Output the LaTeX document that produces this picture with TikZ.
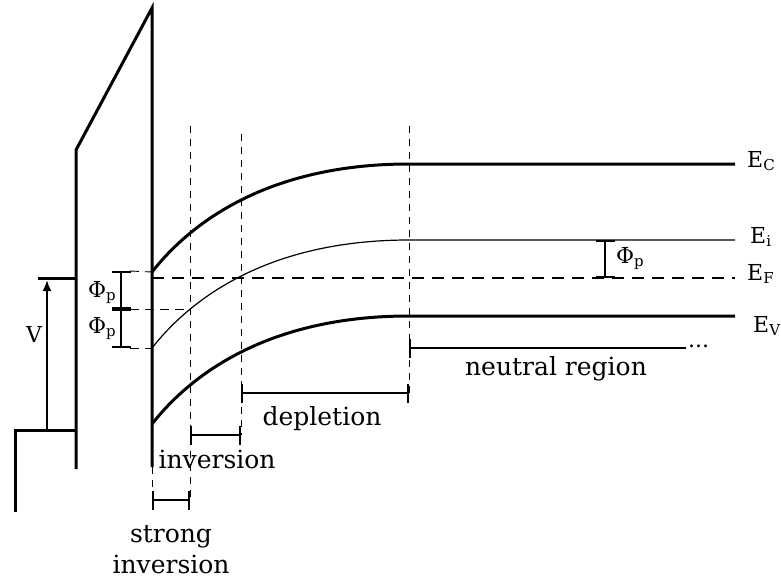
\documentclass[tikz,border=0pt]{standalone}
\usepackage{fontspec}
\setmainfont{DejaVu Serif}
\usetikzlibrary{arrows.meta}

\newcommand{\sublow}[1]{\raisebox{-3pt}{\fontsize{15}{15}\selectfont #1}}

\begin{document}
\begin{tikzpicture}[x=1pt, y=-1pt,
  band/.style={line width=3pt},
  thinband/.style={line width=1.2pt},
  guide/.style={line width=0.8pt, dash pattern=on 7pt off 6pt},
  fermi/.style={line width=1.3pt, dash pattern=on 12pt off 8pt},
  span/.style={line width=2.4pt, {Bar[width=19pt]}-{Bar[width=19pt]}},
  region/.style={font=\fontsize{25}{31}\selectfont, align=center, anchor=base, inner sep=0pt},
  level/.style={font=\fontsize{22}{26}\selectfont, anchor=base west, inner sep=0pt}
]
\useasboundingbox (0,0) rectangle (781,578);

\coordinate (M0) at (15,512);
\coordinate (M1) at (15,430);
\coordinate (M2) at (76,430);
\coordinate (MF) at (38,278);
\coordinate (MFe) at (76,278);
\coordinate (O0) at (76,469);
\coordinate (O1) at (76,150);
\coordinate (O2) at (152,8);
\coordinate (O3) at (152,467);
\coordinate (O4) at (152,510);

\draw[band, line join=miter] (M0) -- (M1) -- (M2);
\draw[band] (MF) -- (MFe);
\draw[band, line join=miter] (O0) -- (O1) -- (O2) -- (O3);
\draw[guide] (O3) -- (O4);

\coordinate (Vb) at (47,430);
\coordinate (Vt) at (47,280);
\draw[line width=2pt, -{Latex[length=11pt, width=9pt]}] (Vb) -- (Vt);
\node[level] (V) at (26,342) {V};

\coordinate (ECs) at (152,272);
\coordinate (ECb) at (409,164);
\coordinate (ECe) at (735,164);
\coordinate (Eis) at (152,348);
\coordinate (Eib) at (409,240);
\coordinate (Eie) at (735,240);
\coordinate (EVs) at (152,424);
\coordinate (EVb) at (409,316);
\coordinate (EVe) at (735,316);
\coordinate (EFs) at (152,278);
\coordinate (EFe) at (735,278);

\draw[band] (ECs) .. controls (190.5,223) and (267.6,164) .. (ECb) -- (ECe);
\draw[thinband] (Eis) .. controls (190.5,299) and (267.6,240) .. (Eib) -- (Eie);
\draw[band] (EVs) .. controls (190.5,375) and (267.6,316) .. (EVb) -- (EVe);
\draw[fermi] (EFs) -- (EFe);

\node[level] (EC) at (747,167) {E\sublow{C}};
\node[level] (Ei) at (750,243) {E\sublow{i}};
\node[level] (EF) at (747,280) {E\sublow{F}};
\node[level] (EV) at (753,332) {E\sublow{V}};

\coordinate (S1t) at (190,126);
\coordinate (S1b) at (190,500);
\coordinate (S2t) at (241,134);
\coordinate (S2b) at (241,435);
\coordinate (S3t) at (409,126);
\coordinate (S3b) at (409,393);
\draw[guide] (S1t) -- (S1b);
\draw[guide] (S2t) -- (S2b);
\draw[guide] (S3t) -- (S3b);

\coordinate (P0) at (121,271);
\coordinate (P1) at (121,309);
\coordinate (P2) at (121,348);
\draw[fermi, line width=0.9pt, dash pattern=on 9pt off 6pt] (130,271) -- (ECs);
\draw[fermi, line width=0.9pt, dash pattern=on 9pt off 6pt] (130,309) -- (190,309);
\draw[fermi, line width=0.9pt, dash pattern=on 9pt off 6pt] (130,348) -- (Eis);
\draw[span] (P0) -- (P1);
\draw[span] (P1) -- (P2);
\node[level] (phiA) at (88,297) {Φ\sublow{p}};
\node[level] (phiB) at (88,333) {Φ\sublow{p}};

\coordinate (Q0) at (605,240);
\coordinate (Q1) at (605,278);
\draw[span] (Q0) -- (Q1);
\node[level] (phiC) at (616,263) {Φ\sublow{p}};

\draw[span] (152,500) -- (S1b);
\draw[span] (190,435) -- (S2b);
\draw[span] (241,393) -- (S3b);
\coordinate (Nb) at (409,348);
\coordinate (Ne) at (686,348);
\draw[line width=2.4pt, {Bar[width=19pt]}-] (Nb) -- (Ne);
\node[level] (dots) at (688,347) {...};

\node[region] (strong) at (171,573) {strong\\inversion};
\node[region] (inv) at (217,468) {inversion};
\node[region] (depl) at (322,425) {depletion};
\node[region] (neutral) at (556,375) {neutral region};
\end{tikzpicture}
\end{document}
